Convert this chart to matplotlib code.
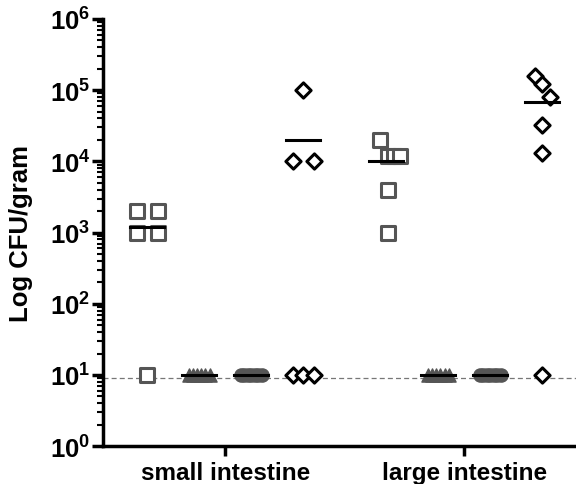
import matplotlib
matplotlib.use('Agg')
import matplotlib.pyplot as plt
from matplotlib.ticker import LogLocator, NullFormatter
import numpy as np

plt.rcParams['font.family'] = 'Liberation Sans'
plt.rcParams['font.weight'] = 'bold'
plt.rcParams['mathtext.fontset'] = 'custom'
plt.rcParams['mathtext.rm'] = 'Liberation Sans:bold'
plt.rcParams['mathtext.bf'] = 'Liberation Sans:bold'

# --- data (CFU/gram) ---
categories = ['small intestine', 'large intestine']

si_squares = [2000, 2000, 1000, 1000, 10]
si_triangles = [10, 10, 10, 10, 10, 10]
si_circles = [10, 10, 10, 10, 10, 10, 10]
si_diamonds = [100000, 10000, 10000, 10, 10, 10]

li_squares = [20000, 12000, 12000, 12000, 4000, 1000]
li_triangles = [10, 10, 10, 10, 10, 10]
li_circles = [10, 10, 10, 10, 10, 10, 10]
li_diamonds = [157000, 121000, 80000, 32000, 13000, 10]

# horizontal scatter offsets (as drawn)
si_squares_dx = [-0.2, 0.2, -0.2, 0.2, 0.0]
si_diamonds_dx = [0.0, -0.2, 0.2, -0.2, 0.0, 0.2]
li_squares_dx = [-0.12, 0.04, 0.15, 0.26, 0.04, 0.04]
li_diamonds_dx = [-0.13, 0.0, 0.15, 0.0, 0.0, 0.0]
tri_dx = [-0.2, -0.12, -0.04, 0.04, 0.12, 0.2]
circ_dx = [-0.2, -0.13, -0.07, 0.0, 0.07, 0.13, 0.2]

limit_of_detection = 9.2

si_x = [1, 2, 3, 4]
li_x = [5.6, 6.6, 7.6, 8.6]
cat_x = [2.5, 7.1]

gray = '#555555'

fig = plt.figure(figsize=(5.76, 4.85), dpi=100)
ax = fig.add_axes([0.179, 0.078, 0.821, 0.881])
ax.set_yscale('log')

def draw_group(x0, vals, dx, marker, face, edge, size, mew):
    xs = [x0 + d for d in dx]
    ax.scatter(xs, vals, marker=marker, s=size, facecolors=face, edgecolors=edge,
               linewidths=mew, zorder=3, clip_on=False)
    ax.plot([x0 - 0.33, x0 + 0.33], [np.mean(vals)] * 2, color='black', lw=2.2, zorder=4)

ax.axhline(limit_of_detection, color='#777777', lw=0.9, ls=(0, (4, 2.5)), zorder=1)

for xs, sq, sqdx, tri, ci, di, didx in [
        (si_x, si_squares, si_squares_dx, si_triangles, si_circles, si_diamonds, si_diamonds_dx),
        (li_x, li_squares, li_squares_dx, li_triangles, li_circles, li_diamonds, li_diamonds_dx)]:
    draw_group(xs[0], sq, sqdx, 's', 'white', gray, 105, 2.2)
    draw_group(xs[1], tri, tri_dx, '^', gray, gray, 90, 1.0)
    draw_group(xs[2], ci, circ_dx, 'o', gray, gray, 90, 1.0)
    draw_group(xs[3], di, didx, 'D', 'white', 'black', 60, 2.2)

ax.set_ylim(1, 1e6)
ax.set_xlim(0.15, 9.25)

ax.yaxis.set_minor_locator(LogLocator(base=10, subs=np.arange(2, 10), numticks=10))
ax.yaxis.set_minor_formatter(NullFormatter())
ax.set_yticks([10 ** k for k in range(7)])
ax.set_yticklabels([r'$\mathbf{10^{%d}}$' % k for k in range(7)], fontsize=18.5)

ax.set_xticks(cat_x)
ax.set_xticklabels(categories, fontsize=17.5, fontweight='bold')
ax.set_ylabel('Log CFU/gram', fontsize=18.5, fontweight='bold')
ax.yaxis.set_label_coords(-0.148, 0.5)

for s in ['top', 'right']:
    ax.spines[s].set_visible(False)
for s in ['left', 'bottom']:
    ax.spines[s].set_linewidth(2.5)

ax.tick_params(axis='y', which='major', length=8, width=2.5, pad=1)
ax.tick_params(axis='y', which='minor', length=4, width=1.5)
ax.tick_params(axis='x', which='major', length=7, width=2.5, pad=4)

plt.savefig('out.png', dpi=100)
